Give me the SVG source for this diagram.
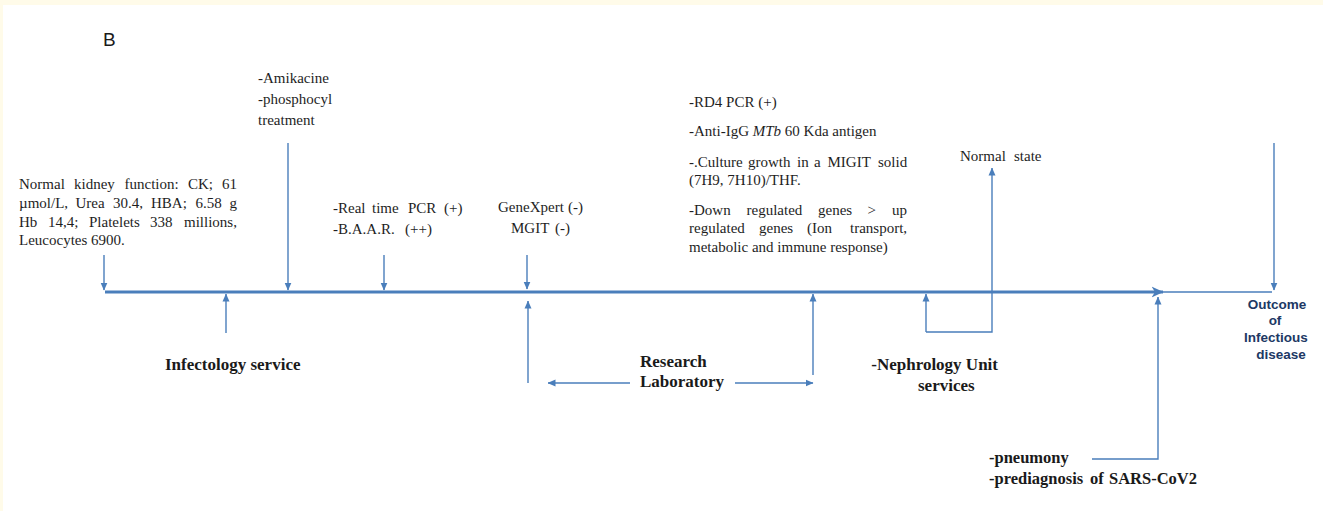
<svg xmlns="http://www.w3.org/2000/svg" width="1323" height="511" viewBox="0 0 1323 511">
<defs>
<style>
.t{font-family:"Liberation Serif","Times New Roman",serif;font-size:15px;fill:#1e1e1e}
.b{font-family:"Liberation Serif","Times New Roman",serif;font-size:17px;font-weight:bold;fill:#1a1a1a}
.o{font-family:"Liberation Sans",Arial,sans-serif;font-size:13.5px;font-weight:bold;fill:#203864;text-anchor:middle}
.c{fill:none;stroke:#4a7ebb;stroke-width:1.4}
.m{fill:none;stroke:#4a7ebb;stroke-width:3}
</style>
<marker id="ah" viewBox="0 0 8 8" refX="7.5" refY="4" markerWidth="8" markerHeight="8" markerUnits="userSpaceOnUse" orient="auto"><path d="M0,0.5 L8,4 L0,7.5 Z" fill="#4a7ebb"/></marker>
<marker id="big" viewBox="0 0 12 12" refX="11.5" refY="6" markerWidth="12" markerHeight="12" markerUnits="userSpaceOnUse" orient="auto"><path d="M0,0.5 L12,6 L0,11.5 L3.5,6 Z" fill="#4a7ebb"/></marker>
</defs>
<rect width="1323" height="511" fill="#fffbe9"/>
<rect x="3" y="5" width="1320" height="506" fill="#ffffff"/>
<text x="103" y="46" style="font-family:'Liberation Sans',Arial,sans-serif;font-size:19px;fill:#1a1a1a">B</text>

<g id="connectors">
<path class="m" d="M105,292 H1163" marker-end="url(#big)"/>
<path class="c" d="M104,255 V290" marker-end="url(#ah)"/>
<path class="c" d="M288,143 V290" marker-end="url(#ah)"/>
<path class="c" d="M384,255 V290" marker-end="url(#ah)"/>
<path class="c" d="M527,255 V289" marker-end="url(#ah)"/>
<path class="c" d="M226,333 V294" marker-end="url(#ah)"/>
<path class="c" d="M528,383 V301" marker-end="url(#ah)"/>
<path class="c" d="M813,375 V294" marker-end="url(#ah)"/>
<path class="c" d="M630,383 H548" marker-end="url(#ah)"/>
<path class="c" d="M735,383 H813" marker-end="url(#ah)"/>
<path class="c" d="M926,332 V294" marker-end="url(#ah)"/>
<path class="c" d="M926,332 H992 V168" marker-end="url(#ah)"/>
<path class="c" d="M1092,459 H1158 V297" marker-end="url(#ah)"/>
<path class="c" d="M1163,292 H1272"/>
<path class="c" d="M1274,143 V290" marker-end="url(#ah)"/>
</g>

<g id="kidney">
<text class="t" y="189"><tspan x="19">Normal</tspan><tspan x="74">kidney</tspan><tspan x="124.5">function:</tspan><tspan x="188">CK;</tspan><tspan x="222">61</tspan></text>
<text class="t" y="208"><tspan x="19">µmol/L,</tspan><tspan x="75.5">Urea</tspan><tspan x="113">30.4,</tspan><tspan x="151">HBA;</tspan><tspan x="195.5">6.58</tspan><tspan x="229.5">g</tspan></text>
<text class="t" y="227"><tspan x="19">Hb</tspan><tspan x="48">14,4;</tspan><tspan x="89">Platelets</tspan><tspan x="150">338</tspan><tspan x="184">millions,</tspan></text>
<text class="t" x="19" y="245">Leucocytes 6900.</text>
</g>

<g id="treatment">
<text class="t" x="258" y="83">-Amikacine</text>
<text class="t" x="258" y="104">-phosphocyl</text>
<text class="t" x="258" y="125">treatment</text>
</g>

<g id="pcr">
<text class="t" y="213"><tspan x="333">-Real</tspan><tspan x="372">time</tspan><tspan x="408">PCR</tspan><tspan x="444">(+)</tspan></text>
<text class="t" y="234"><tspan x="333">-B.A.A.R.</tspan><tspan x="405">(++)</tspan></text>
</g>

<g id="genexpert">
<text class="t" y="212"><tspan x="498">GeneXpert</tspan><tspan x="568">(-)</tspan></text>
<text class="t" y="233"><tspan x="511">MGIT</tspan><tspan x="555">(-)</tspan></text>
</g>

<g id="research-results">
<text class="t" x="689" y="107">-RD4 PCR (+)</text>
<text class="t" x="689" y="136">-Anti-IgG <tspan font-style="italic">MTb</tspan> 60 Kda antigen</text>
<text class="t" y="167"><tspan x="689">-.Culture</tspan><tspan x="748">growth</tspan><tspan x="797">in</tspan><tspan x="814">a</tspan><tspan x="827.5">MIGIT</tspan><tspan x="878">solid</tspan></text>
<text class="t" x="689" y="185">(7H9, 7H10)/THF.</text>
<text class="t" y="215"><tspan x="689">-Down</tspan><tspan x="746.5">regulated</tspan><tspan x="818">genes</tspan><tspan x="867.5">&gt;</tspan><tspan x="892">up</tspan></text>
<text class="t" y="233"><tspan x="689">regulated</tspan><tspan x="759">genes</tspan><tspan x="807">(Ion</tspan><tspan x="850">transport,</tspan></text>
<text class="t" x="689" y="252">metabolic and immune response)</text>
</g>

<g id="normal-state">
<text class="t" y="161"><tspan x="960">Normal</tspan><tspan x="1014">state</tspan></text>
</g>

<g id="infectology">
<text class="b" x="165" y="370">Infectology service</text>
</g>

<g id="research-lab">
<text class="b" x="640" y="367">Research</text>
<text class="b" x="640" y="387">Laboratory</text>
</g>

<g id="nephrology">
<text class="b" x="998" y="370" text-anchor="end">-Nephrology Unit</text>
<text class="b" x="918" y="391">services</text>
</g>

<g id="sars">
<text class="b" x="989" y="463" style="font-size:16.5px">-pneumony</text>
<text class="b" y="484" style="font-size:16.5px"><tspan x="989">-prediagnosis</tspan><tspan x="1090">of</tspan><tspan x="1109">SARS-CoV2</tspan></text>
</g>

<g id="outcome">
<text class="o" x="1277" y="309">Outcome</text>
<text class="o" x="1275" y="325">of</text>
<text class="o" x="1276" y="342">Infectious</text>
<text class="o" x="1281" y="359">disease</text>
</g>
</svg>
